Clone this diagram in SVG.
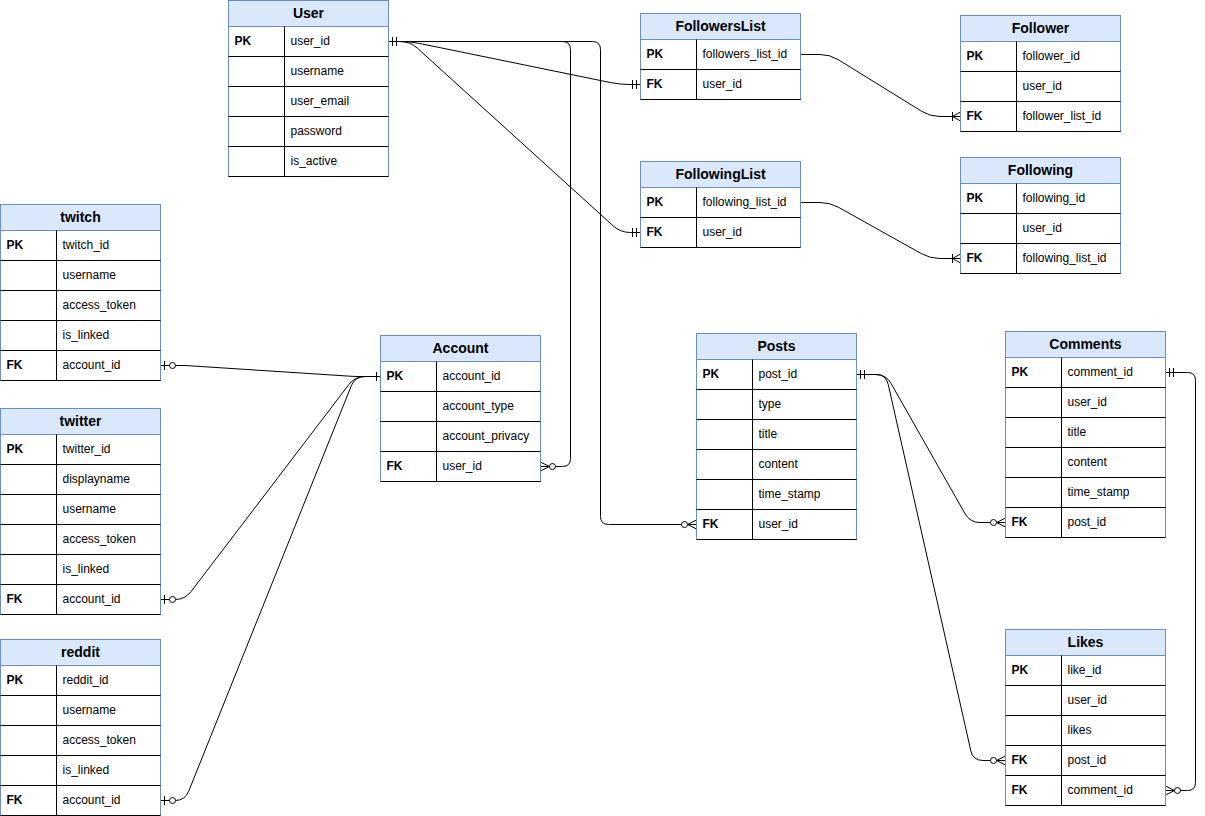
<svg xmlns="http://www.w3.org/2000/svg" width="1205" height="816" viewBox="0 0 1205 816">
<style>
.hd{fill:#dae8fc;stroke:#6c8ebf;stroke-width:1}
.bd{fill:none;stroke:#6c8ebf;stroke-width:1}
.ln{fill:none;stroke:#000;stroke-width:1}
.tt{font-family:"Liberation Sans",Arial,sans-serif;font-size:14px;font-weight:bold;fill:#000;text-anchor:middle}
.k{font-family:"Liberation Sans",Arial,sans-serif;font-size:12px;font-weight:bold;fill:#000}
.f{font-family:"Liberation Sans",Arial,sans-serif;font-size:12px;fill:#000}
.tt,.k,.f{transform:translate(0px,-0.5px)}
.c{fill:none;stroke:#000;stroke-width:1}
.mk{fill:none;stroke:#000;stroke-width:1}
.mc{fill:#fff;stroke:#000;stroke-width:1}
</style>
<defs>
<marker id="mandOne" markerUnits="userSpaceOnUse" viewBox="-20 -10 20 20" markerWidth="20" markerHeight="20" refX="0" refY="0" orient="auto-start-reverse" overflow="visible"><path class="mk" d="M-4,-4.5V4.5M-8,-4.5V4.5"/></marker>
<marker id="zeroMany" markerUnits="userSpaceOnUse" viewBox="-20 -10 20 20" markerWidth="20" markerHeight="20" refX="0" refY="0" orient="auto-start-reverse" overflow="visible"><path class="mk" d="M0,-4.5L-9,0L0,4.5M0,0H-9"/><circle class="mc" cx="-12" cy="0" r="3"/></marker>
<marker id="oneMany" markerUnits="userSpaceOnUse" viewBox="-20 -10 20 20" markerWidth="20" markerHeight="20" refX="0" refY="0" orient="auto-start-reverse" overflow="visible"><path class="mk" d="M0,-4.5L-8,0L0,4.5M-8,-4.5V4.5"/></marker>
<marker id="zeroOne" markerUnits="userSpaceOnUse" viewBox="-20 -10 20 20" markerWidth="20" markerHeight="20" refX="0" refY="0" orient="auto-start-reverse" overflow="visible"><path class="mk" d="M-4,-4.5V4.5"/><circle class="mc" cx="-12" cy="0" r="3"/></marker>
<marker id="one" markerUnits="userSpaceOnUse" viewBox="-20 -10 20 20" markerWidth="20" markerHeight="20" refX="0" refY="0" orient="auto-start-reverse" overflow="visible"><path class="mk" d="M-4,-4.5V4.5"/></marker>
</defs>
<rect x="0" y="0" width="1205" height="816" fill="#fff"/>

<g id="connectors">
<path class="c" d="M388.5,41.5 H562.5 Q570.5,41.5 570.5,49.5 V458.5 Q570.5,466.5 562.5,466.5 H540.5" marker-start="url(#mandOne)" marker-end="url(#zeroMany)"/>
<path class="c" d="M388.5,41.5 H592.5 Q600.5,41.5 600.5,49.5 V516.5 Q600.5,524.5 608.5,524.5 H696.5" marker-start="url(#mandOne)" marker-end="url(#zeroMany)"/>
<path class="c" d="M388.5,41.5 H400 Q410,41.5 419.8,43.5 L610.2,82.5 Q620,84.5 630,84.5 H640.5" marker-start="url(#mandOne)" marker-end="url(#mandOne)"/>
<path class="c" d="M388.5,41.5 H400 Q410,41.5 417.4,48.2 L613.1,225.8 Q620.5,232.5 630.5,232.5 H640.5" marker-start="url(#mandOne)" marker-end="url(#mandOne)"/>
<path class="c" d="M800.5,54.5 H820 Q830,54.5 838.5,59.8 L921.5,111.2 Q930,116.5 940,116.5 H960.5" marker-end="url(#oneMany)"/>
<path class="c" d="M800.5,202.5 H820 Q830,202.5 838.7,207.4 L921.3,253.6 Q930,258.5 940,258.5 H960.5" marker-end="url(#oneMany)"/>
<path class="c" d="M160.5,365.5 H180 Q185,365.5 190,365.8 L350,376.2 Q355,376.5 360,376.5 H380.5" marker-start="url(#zeroOne)" marker-end="url(#one)"/>
<path class="c" d="M160.5,599.5 H175 Q185,599.5 191.1,591.5 L348.9,384.5 Q355,376.5 365,376.5 H380.5" marker-start="url(#zeroOne)" marker-end="url(#one)"/>
<path class="c" d="M160.5,800.5 H175 Q185,800.5 188.7,791.2 L351.3,385.8 Q355,376.5 365,376.5 H380.5" marker-start="url(#zeroOne)" marker-end="url(#one)"/>
<path class="c" d="M856.5,374.5 H876 Q886,374.5 890.9,383.2 L965.1,513.8 Q970,522.5 980,522.5 H1005.5" marker-start="url(#mandOne)" marker-end="url(#zeroMany)"/>
<path class="c" d="M856.5,374.5 H876 Q886,374.5 888.2,384.3 L970.8,750.7 Q973,760.5 983,760.5 H1005.5" marker-start="url(#mandOne)" marker-end="url(#zeroMany)"/>
<path class="c" d="M1165.5,372.5 H1187.5 Q1195.5,372.5 1195.5,380.5 V782.5 Q1195.5,790.5 1187.5,790.5 H1165.5" marker-start="url(#mandOne)" marker-end="url(#zeroMany)"/>
</g>

<g id="t-user">
<rect class="hd" x="228.5" y="0.5" width="160" height="26"/>
<rect class="bd" x="228.5" y="0.5" width="160" height="176"/>
<path class="ln" d="M228.5,56.5H388.5M228.5,86.5H388.5M228.5,116.5H388.5M228.5,146.5H388.5M228.5,176.5H388.5M284.5,26.5V176.5"/>
<text class="tt" x="308.5" y="18.5">User</text>
<text class="k" x="234.5" y="45.5">PK</text>
<text class="f" x="290.5" y="45.5">user_id</text>
<text class="f" x="290.5" y="75.5">username</text>
<text class="f" x="290.5" y="105.5">user_email</text>
<text class="f" x="290.5" y="135.5">password</text>
<text class="f" x="290.5" y="165.5">is_active</text>
</g>

<g id="t-followerslist">
<rect class="hd" x="640.5" y="13.5" width="160" height="26"/>
<rect class="bd" x="640.5" y="13.5" width="160" height="86"/>
<path class="ln" d="M640.5,69.5H800.5M640.5,99.5H800.5M696.5,39.5V99.5"/>
<text class="tt" x="720.5" y="31.5">FollowersList</text>
<text class="k" x="646.5" y="58.5">PK</text>
<text class="f" x="702.5" y="58.5">followers_list_id</text>
<text class="k" x="646.5" y="88.5">FK</text>
<text class="f" x="702.5" y="88.5">user_id</text>
</g>

<g id="t-follower">
<rect class="hd" x="960.5" y="15.5" width="160" height="26"/>
<rect class="bd" x="960.5" y="15.5" width="160" height="116"/>
<path class="ln" d="M960.5,71.5H1120.5M960.5,101.5H1120.5M960.5,131.5H1120.5M1016.5,41.5V131.5"/>
<text class="tt" x="1040.5" y="33.5">Follower</text>
<text class="k" x="966.5" y="60.5">PK</text>
<text class="f" x="1022.5" y="60.5">follower_id</text>
<text class="f" x="1022.5" y="90.5">user_id</text>
<text class="k" x="966.5" y="120.5">FK</text>
<text class="f" x="1022.5" y="120.5">follower_list_id</text>
</g>

<g id="t-followinglist">
<rect class="hd" x="640.5" y="161.5" width="160" height="26"/>
<rect class="bd" x="640.5" y="161.5" width="160" height="86"/>
<path class="ln" d="M640.5,217.5H800.5M640.5,247.5H800.5M696.5,187.5V247.5"/>
<text class="tt" x="720.5" y="179.5">FollowingList</text>
<text class="k" x="646.5" y="206.5">PK</text>
<text class="f" x="702.5" y="206.5">following_list_id</text>
<text class="k" x="646.5" y="236.5">FK</text>
<text class="f" x="702.5" y="236.5">user_id</text>
</g>

<g id="t-following">
<rect class="hd" x="960.5" y="157.5" width="160" height="26"/>
<rect class="bd" x="960.5" y="157.5" width="160" height="116"/>
<path class="ln" d="M960.5,213.5H1120.5M960.5,243.5H1120.5M960.5,273.5H1120.5M1016.5,183.5V273.5"/>
<text class="tt" x="1040.5" y="175.5">Following</text>
<text class="k" x="966.5" y="202.5">PK</text>
<text class="f" x="1022.5" y="202.5">following_id</text>
<text class="f" x="1022.5" y="232.5">user_id</text>
<text class="k" x="966.5" y="262.5">FK</text>
<text class="f" x="1022.5" y="262.5">following_list_id</text>
</g>

<g id="t-twitch">
<rect class="hd" x="0.5" y="204.5" width="160" height="26"/>
<rect class="bd" x="0.5" y="204.5" width="160" height="176"/>
<path class="ln" d="M0.5,260.5H160.5M0.5,290.5H160.5M0.5,320.5H160.5M0.5,350.5H160.5M0.5,380.5H160.5M56.5,230.5V380.5"/>
<text class="tt" x="80.5" y="222.5">twitch</text>
<text class="k" x="6.5" y="249.5">PK</text>
<text class="f" x="62.5" y="249.5">twitch_id</text>
<text class="f" x="62.5" y="279.5">username</text>
<text class="f" x="62.5" y="309.5">access_token</text>
<text class="f" x="62.5" y="339.5">is_linked</text>
<text class="k" x="6.5" y="369.5">FK</text>
<text class="f" x="62.5" y="369.5">account_id</text>
</g>

<g id="t-twitter">
<rect class="hd" x="0.5" y="408.5" width="160" height="26"/>
<rect class="bd" x="0.5" y="408.5" width="160" height="206"/>
<path class="ln" d="M0.5,464.5H160.5M0.5,494.5H160.5M0.5,524.5H160.5M0.5,554.5H160.5M0.5,584.5H160.5M0.5,614.5H160.5M56.5,434.5V614.5"/>
<text class="tt" x="80.5" y="426.5">twitter</text>
<text class="k" x="6.5" y="453.5">PK</text>
<text class="f" x="62.5" y="453.5">twitter_id</text>
<text class="f" x="62.5" y="483.5">displayname</text>
<text class="f" x="62.5" y="513.5">username</text>
<text class="f" x="62.5" y="543.5">access_token</text>
<text class="f" x="62.5" y="573.5">is_linked</text>
<text class="k" x="6.5" y="603.5">FK</text>
<text class="f" x="62.5" y="603.5">account_id</text>
</g>

<g id="t-reddit">
<rect class="hd" x="0.5" y="639.5" width="160" height="26"/>
<rect class="bd" x="0.5" y="639.5" width="160" height="176"/>
<path class="ln" d="M0.5,695.5H160.5M0.5,725.5H160.5M0.5,755.5H160.5M0.5,785.5H160.5M0.5,815.5H160.5M56.5,665.5V815.5"/>
<text class="tt" x="80.5" y="657.5">reddit</text>
<text class="k" x="6.5" y="684.5">PK</text>
<text class="f" x="62.5" y="684.5">reddit_id</text>
<text class="f" x="62.5" y="714.5">username</text>
<text class="f" x="62.5" y="744.5">access_token</text>
<text class="f" x="62.5" y="774.5">is_linked</text>
<text class="k" x="6.5" y="804.5">FK</text>
<text class="f" x="62.5" y="804.5">account_id</text>
</g>

<g id="t-account">
<rect class="hd" x="380.5" y="335.5" width="160" height="26"/>
<rect class="bd" x="380.5" y="335.5" width="160" height="146"/>
<path class="ln" d="M380.5,391.5H540.5M380.5,421.5H540.5M380.5,451.5H540.5M380.5,481.5H540.5M436.5,361.5V481.5"/>
<text class="tt" x="460.5" y="353.5">Account</text>
<text class="k" x="386.5" y="380.5">PK</text>
<text class="f" x="442.5" y="380.5">account_id</text>
<text class="f" x="442.5" y="410.5">account_type</text>
<text class="f" x="442.5" y="440.5">account_privacy</text>
<text class="k" x="386.5" y="470.5">FK</text>
<text class="f" x="442.5" y="470.5">user_id</text>
</g>

<g id="t-posts">
<rect class="hd" x="696.5" y="333.5" width="160" height="26"/>
<rect class="bd" x="696.5" y="333.5" width="160" height="206"/>
<path class="ln" d="M696.5,389.5H856.5M696.5,419.5H856.5M696.5,449.5H856.5M696.5,479.5H856.5M696.5,509.5H856.5M696.5,539.5H856.5M752.5,359.5V539.5"/>
<text class="tt" x="776.5" y="351.5">Posts</text>
<text class="k" x="702.5" y="378.5">PK</text>
<text class="f" x="758.5" y="378.5">post_id</text>
<text class="f" x="758.5" y="408.5">type</text>
<text class="f" x="758.5" y="438.5">title</text>
<text class="f" x="758.5" y="468.5">content</text>
<text class="f" x="758.5" y="498.5">time_stamp</text>
<text class="k" x="702.5" y="528.5">FK</text>
<text class="f" x="758.5" y="528.5">user_id</text>
</g>

<g id="t-comments">
<rect class="hd" x="1005.5" y="331.5" width="160" height="26"/>
<rect class="bd" x="1005.5" y="331.5" width="160" height="206"/>
<path class="ln" d="M1005.5,387.5H1165.5M1005.5,417.5H1165.5M1005.5,447.5H1165.5M1005.5,477.5H1165.5M1005.5,507.5H1165.5M1005.5,537.5H1165.5M1061.5,357.5V537.5"/>
<text class="tt" x="1085.5" y="349.5">Comments</text>
<text class="k" x="1011.5" y="376.5">PK</text>
<text class="f" x="1067.5" y="376.5">comment_id</text>
<text class="f" x="1067.5" y="406.5">user_id</text>
<text class="f" x="1067.5" y="436.5">title</text>
<text class="f" x="1067.5" y="466.5">content</text>
<text class="f" x="1067.5" y="496.5">time_stamp</text>
<text class="k" x="1011.5" y="526.5">FK</text>
<text class="f" x="1067.5" y="526.5">post_id</text>
</g>

<g id="t-likes">
<rect class="hd" x="1005.5" y="629.5" width="160" height="26"/>
<rect class="bd" x="1005.5" y="629.5" width="160" height="176"/>
<path class="ln" d="M1005.5,685.5H1165.5M1005.5,715.5H1165.5M1005.5,745.5H1165.5M1005.5,775.5H1165.5M1005.5,805.5H1165.5M1061.5,655.5V805.5"/>
<text class="tt" x="1085.5" y="647.5">Likes</text>
<text class="k" x="1011.5" y="674.5">PK</text>
<text class="f" x="1067.5" y="674.5">like_id</text>
<text class="f" x="1067.5" y="704.5">user_id</text>
<text class="f" x="1067.5" y="734.5">likes</text>
<text class="k" x="1011.5" y="764.5">FK</text>
<text class="f" x="1067.5" y="764.5">post_id</text>
<text class="k" x="1011.5" y="794.5">FK</text>
<text class="f" x="1067.5" y="794.5">comment_id</text>
</g>
</svg>
